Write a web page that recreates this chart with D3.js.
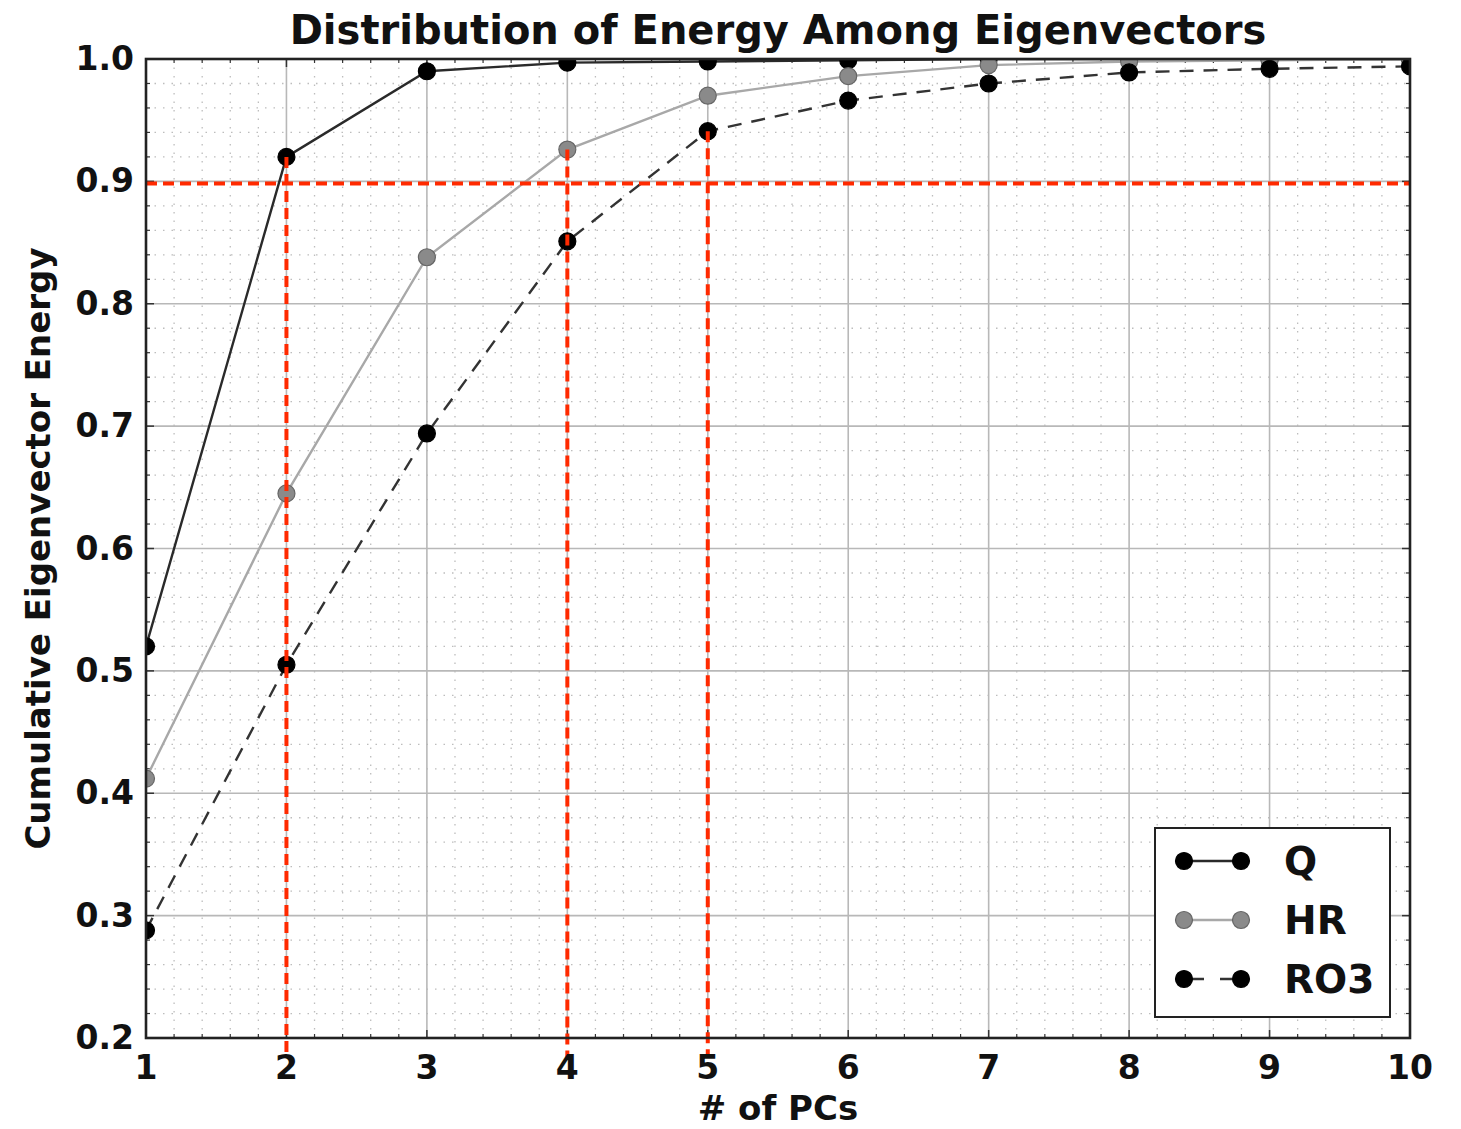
<!DOCTYPE html>
<html>
<head>
<meta charset="utf-8">
<script src="https://cdn.jsdelivr.net/npm/d3@7.9.0/dist/d3.min.js"></script>
<style>
  body { margin: 0; background: #fff; }
  text { font-family: "DejaVu Sans", sans-serif; font-weight: bold; fill: #111; }
</style>
</head>
<body>
<svg id="chart" width="1461" height="1129"></svg>
<script>
// data
const pcs = [1, 2, 3, 4, 5, 6, 7, 8, 9, 10];
const qValues = [0.520, 0.920, 0.990, 0.997, 0.998, 0.999, 1.0, 1.0, 1.0, 1.0];
const hrValues = [0.412, 0.645, 0.838, 0.926, 0.970, 0.986, 0.995, 0.998, 0.999, 1.0];
const ro3Values = [0.288, 0.505, 0.694, 0.851, 0.941, 0.966, 0.980, 0.989, 0.992, 0.994];
const seriesNames = ['Q', 'HR', 'RO3'];
const xTicks = [1, 2, 3, 4, 5, 6, 7, 8, 9, 10];
const yTicks = [0.2, 0.3, 0.4, 0.5, 0.6, 0.7, 0.8, 0.9, 1.0];
const threshold = 0.9;
// vertical markers: where each series first crosses the threshold
const cutoffs = [
  { pc: 2, top: 0.920 },
  { pc: 4, top: 0.926 },
  { pc: 5, top: 0.941 }
];

const svg = d3.select('#chart');
const margin = { left: 146, right: 51, top: 59, bottom: 91 };
const W = 1461, H = 1129;

const x = d3.scaleLinear().domain([1, 10]).range([margin.left, W - margin.right]);
const y = d3.scaleLinear().domain([0.2, 1.0]).range([H - margin.bottom, margin.top]);

const x0 = x.range()[0], x1 = x.range()[1];
const y0 = y.range()[0], y1 = y.range()[1];

svg.append('defs').append('clipPath').attr('id', 'clip')
  .append('rect').attr('x', x0).attr('y', y1).attr('width', x1 - x0).attr('height', y0 - y1);

// minor grid (dotted)
const xMinor = d3.range(1, 10.001, 0.2).filter(v => Math.abs(v - Math.round(v)) > 0.01);
const yMinor = d3.range(0.2, 1.0001, 0.02).filter(v => Math.abs(v * 10 - Math.round(v * 10)) > 0.01);

const grid = svg.append('g');
grid.selectAll('.vmin').data(xMinor).join('line')
  .attr('x1', d => x(d)).attr('x2', d => x(d)).attr('y1', y1).attr('y2', y0)
  .attr('stroke', '#bdbdbd').attr('stroke-width', 1.3).attr('stroke-dasharray', '1.5,7');
grid.selectAll('.hmin').data(yMinor).join('line')
  .attr('y1', d => y(d)).attr('y2', d => y(d)).attr('x1', x0).attr('x2', x1)
  .attr('stroke', '#bdbdbd').attr('stroke-width', 1.3).attr('stroke-dasharray', '1.5,7');

// major grid
grid.selectAll('.vmaj').data(xTicks.slice(1, -1)).join('line')
  .attr('x1', d => x(d)).attr('x2', d => x(d)).attr('y1', y1).attr('y2', y0)
  .attr('stroke', '#b8b8b8').attr('stroke-width', 1.6);
grid.selectAll('.hmaj').data(yTicks.slice(1, -1)).join('line')
  .attr('y1', d => y(d)).attr('y2', d => y(d)).attr('x1', x0).attr('x2', x1)
  .attr('stroke', '#b8b8b8').attr('stroke-width', 1.6);

// inward ticks on all four sides
const tickG = svg.append('g').attr('stroke', '#333');
xTicks.forEach(v => {
  tickG.append('line').attr('x1', x(v)).attr('x2', x(v)).attr('y1', y0).attr('y2', y0 - 8).attr('stroke-width', 1.5);
  tickG.append('line').attr('x1', x(v)).attr('x2', x(v)).attr('y1', y1).attr('y2', y1 + 8).attr('stroke-width', 1.5);
});
xMinor.forEach(v => {
  tickG.append('line').attr('x1', x(v)).attr('x2', x(v)).attr('y1', y0).attr('y2', y0 - 4).attr('stroke-width', 1.2);
  tickG.append('line').attr('x1', x(v)).attr('x2', x(v)).attr('y1', y1).attr('y2', y1 + 4).attr('stroke-width', 1.2);
});
yTicks.forEach(v => {
  tickG.append('line').attr('y1', y(v)).attr('y2', y(v)).attr('x1', x0).attr('x2', x0 + 8).attr('stroke-width', 1.5);
  tickG.append('line').attr('y1', y(v)).attr('y2', y(v)).attr('x1', x1).attr('x2', x1 - 8).attr('stroke-width', 1.5);
});
yMinor.forEach(v => {
  tickG.append('line').attr('y1', y(v)).attr('y2', y(v)).attr('x1', x0).attr('x2', x0 + 4).attr('stroke-width', 1.2);
  tickG.append('line').attr('y1', y(v)).attr('y2', y(v)).attr('x1', x1).attr('x2', x1 - 4).attr('stroke-width', 1.2);
});

// series lines
const plot = svg.append('g').attr('clip-path', 'url(#clip)');
const line = d3.line().x(d => x(d[0])).y(d => y(d[1]));
const series = [
  { name: seriesNames[0], values: qValues, stroke: '#2a2a2a', dash: null, fill: '#000', edge: '#000' },
  { name: seriesNames[1], values: hrValues, stroke: '#a8a8a8', dash: null, fill: '#8a8a8a', edge: '#666' },
  { name: seriesNames[2], values: ro3Values, stroke: '#333', dash: '14,10', fill: '#000', edge: '#000' }
];

series.forEach(s => {
  const pts = pcs.map((p, i) => [p, s.values[i]]);
  plot.append('path').datum(pts)
    .attr('d', line).attr('fill', 'none')
    .attr('stroke', s.stroke).attr('stroke-width', 2.4)
    .attr('stroke-dasharray', s.dash);
});

// red threshold lines
const red = svg.append('g');
red.append('line')
  .attr('x1', x0).attr('x2', x1).attr('y1', y(threshold) + 2).attr('y2', y(threshold) + 2)
  .attr('stroke', '#ff2a00').attr('stroke-width', 4).attr('stroke-dasharray', '11,6');
red.selectAll('.cut').data(cutoffs).join('line')
  .attr('x1', d => x(d.pc)).attr('x2', d => x(d.pc))
  .attr('y1', d => y(d.top)).attr('y2', y0 + 20)
  .attr('stroke', '#ff2a00').attr('stroke-width', 4).attr('stroke-dasharray', '11,6');

// markers
series.forEach(s => {
  plot.selectAll(null).data(pcs.map((p, i) => [p, s.values[i]])).join('circle')
    .attr('cx', d => x(d[0])).attr('cy', d => y(d[1])).attr('r', 8.5)
    .attr('fill', s.fill).attr('stroke', s.edge).attr('stroke-width', 1.2);
});

// frame
svg.append('rect').attr('x', x0).attr('y', y1).attr('width', x1 - x0).attr('height', y0 - y1)
  .attr('fill', 'none').attr('stroke', '#222').attr('stroke-width', 2.6);

// tick labels
svg.append('g').selectAll('text').data(xTicks).join('text')
  .attr('x', d => x(d)).attr('y', y0 + 41)
  .attr('text-anchor', 'middle').attr('font-size', 33)
  .text(d => d);
svg.append('g').selectAll('text').data(yTicks).join('text')
  .attr('x', x0 - 12).attr('y', d => y(d) + 11)
  .attr('text-anchor', 'end').attr('font-size', 33)
  .text(d => d.toFixed(1));

// titles
svg.append('text').attr('x', (x0 + x1) / 2).attr('y', 44)
  .attr('text-anchor', 'middle').attr('font-size', 40)
  .text('Distribution of Energy Among Eigenvectors');
svg.append('text').attr('x', (x0 + x1) / 2).attr('y', 1120)
  .attr('text-anchor', 'middle').attr('font-size', 34)
  .text('# of PCs');
svg.append('text')
  .attr('transform', `translate(50,${(y0 + y1) / 2}) rotate(-90)`)
  .attr('text-anchor', 'middle').attr('font-size', 34)
  .text('Cumulative Eigenvector Energy');

// legend
const lg = svg.append('g').attr('transform', 'translate(1155,828)');
lg.append('rect').attr('width', 235).attr('height', 189)
  .attr('fill', '#fff').attr('stroke', '#222').attr('stroke-width', 2);
series.forEach((s, i) => {
  const ly = 33 + i * 59;
  lg.append('line').attr('x1', 29).attr('x2', 86).attr('y1', ly).attr('y2', ly)
    .attr('stroke', s.stroke).attr('stroke-width', 2.4).attr('stroke-dasharray', s.dash ? '12,16' : null)
    .attr('stroke-dashoffset', s.dash ? -8 : 0);
  [29, 86].forEach(cx => lg.append('circle').attr('cx', cx).attr('cy', ly).attr('r', 8.5)
    .attr('fill', s.fill).attr('stroke', s.edge).attr('stroke-width', 1.2));
  lg.append('text').attr('x', 129).attr('y', ly + 14).attr('font-size', 39).text(s.name);
});
</script>
</body>
</html>
